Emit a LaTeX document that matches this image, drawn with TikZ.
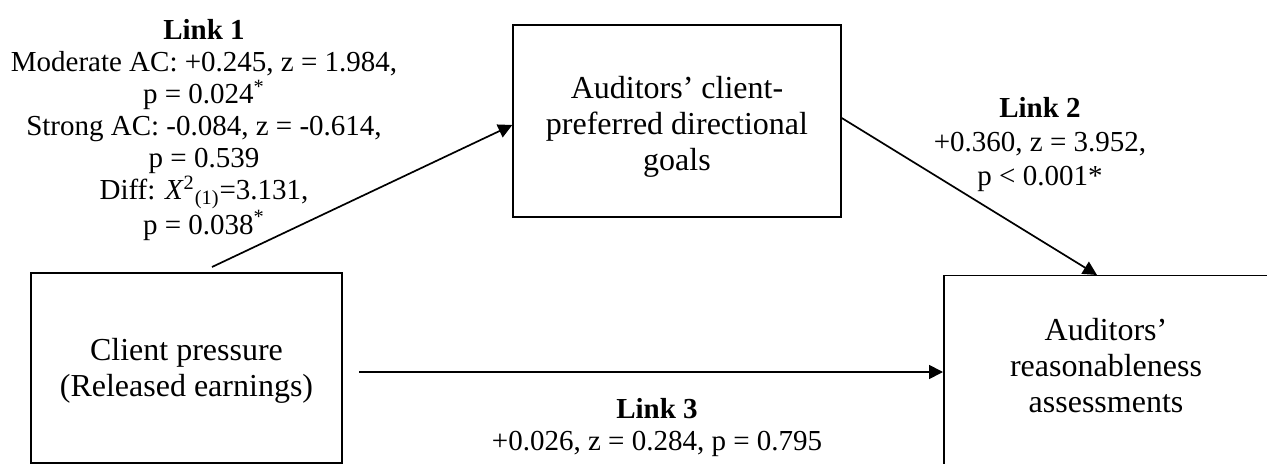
\documentclass[tikz,border=0pt]{standalone}
\usepackage{fontspec}
\setmainfont{Liberation Serif}
\usetikzlibrary{arrows.meta,calc}

\newcommand\figboxfont{\fontsize{16pt}{18pt}\selectfont}
\newcommand\figlblfont[1]{\fontsize{14.5pt}{#1}\selectfont}

\tikzset{
  box/.style={draw, line width=0.75pt, align=center, inner sep=0pt, font=\figboxfont},
  boxtext/.style={align=center, inner sep=0pt, font=\figboxfont},
  lbl/.style={align=center, inner sep=0pt},
  link/.style={line width=0.85pt, -{Triangle[length=7pt,width=7pt]}},
}

\begin{document}
\begin{tikzpicture}[x=0.5pt, y=-0.5pt]
\useasboundingbox (0,0) rectangle (1267,464);

% the three constructs
\node[box, minimum width=155.5pt, minimum height=95pt] (client) at (186.5,368) {};
\node[boxtext] (clienttext) at (186.5,371) {Client pressure\\(Released earnings)};
\node[box, minimum width=164pt, minimum height=96pt] (goals) at (677,121) {};
\node[boxtext] (goalstext) at (677,127) {Auditors’ client-\\preferred directional\\goals};
\begin{scope}
  \clip (0,0) rectangle (1267,464);
  \node[box, minimum width=163pt, minimum height=105pt, anchor=north west] (assess) at (943,275) {};
\end{scope}
\node[boxtext] (assesstext) at (1106,366) {Auditors’\\reasonableness\\assessments};

% path coefficients
\node[lbl, font=\figlblfont{16pt}] (link1) at (204,130)
  {\textbf{Link 1}\\Moderate AC: +0.245, z = 1.984,\\p = 0.024\textsuperscript{*}\\Strong AC: -0.084, z = -0.614,\\p = 0.539\\Diff: \textit{X}\textsuperscript{2}\textsubscript{(1)}=3.131,\\p = 0.038\textsuperscript{*}};
\node[lbl, font=\figlblfont{17pt}] (link2) at (1040,145)
  {\textbf{Link 2}\\+0.360, z = 3.952,\\p < 0.001*};
\node[lbl, font=\figlblfont{16pt}] (link3) at (657,428)
  {\textbf{Link 3}\\+0.026, z = 0.284, p = 0.795};

% connectors
\coordinate (l1s) at (212,267);
\draw[link] (l1s) -- ([yshift=-2pt]goals.west);
\draw[link] ([yshift=1.5pt]goals.east) -- ($(assess.north west)+(154,0)$);
\coordinate (l3s) at (359,372);
\draw[link] (l3s) -- (l3s -| assess.west);
\end{tikzpicture}
\end{document}
